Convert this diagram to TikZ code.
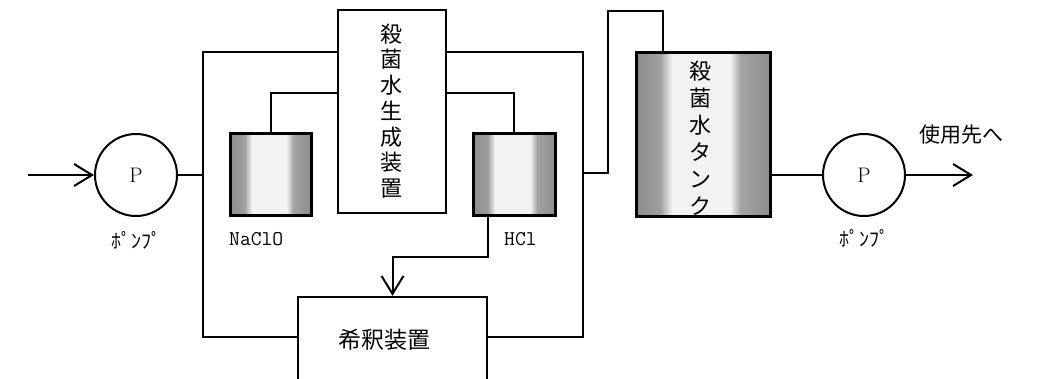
\documentclass[tikz,border=0pt]{standalone}
\usepackage{fontspec}
\newfontfamily\jp{Noto Sans CJK JP}
\usetikzlibrary{arrows.meta}
\pgfdeclarehorizontalshading{tankshade}{100bp}{color(0bp)=(black!45); color(25bp)=(black!45); color(34bp)=(black!38); color(38.5bp)=(black!5); color(60bp)=(black!5); color(64bp)=(black!36); color(75bp)=(black!45); color(100bp)=(black!45)}
\begin{document}
\begin{tikzpicture}[x=1pt,y=-1pt,
  line/.style={line width=2pt},
  pumpc/.style={circle,draw,line width=2pt,minimum size=82pt,inner sep=0pt,font=\fontsize{21}{21}\selectfont},
  box/.style={rectangle,draw,line width=2.4pt,fill=white,inner sep=0pt},
  tankbox/.style={rectangle,draw,line width=3pt,shading=tankshade,inner sep=0pt},
  jtext/.style={font=\jp\fontsize{#1}{#1}\selectfont,inner sep=0pt},
  vtext/.style={font=\jp\fontsize{22}{25.7}\selectfont,align=center,inner sep=0pt},
  chem/.style={font=\ttfamily\fontsize{21}{21}\selectfont,inner sep=0pt},
  arr/.style={-{Straight Barb[length=18pt,width=22pt,line width=2pt]}}
]
\useasboundingbox (0,0) rectangle (1038,378);
\clip (0,0) rectangle (1038,378);
\fill[white] (0,0) rectangle (1038,378);

% nodes
\node[pumpc] (pumpL) at (136,175) {P};
\node[jtext=20] (lblL) at (136,240) {ﾎﾟﾝﾌﾟ};
\coordinate (inL) at (28,175);

\node[box,minimum width=108pt,minimum height=203pt] (gen) at (392,111.5) {};
\node[vtext] (gentxt) at (391,111) {殺\\菌\\水\\生\\成\\装\\置};

\node[tankbox,minimum width=81pt,minimum height=82pt] (nacl) at (270.5,174) {};
\node[chem,anchor=west] (nacllbl) at (229,239) {NaClO};

\node[tankbox,minimum width=82pt,minimum height=82pt] (hcl) at (514,174) {};
\node[chem,anchor=west] (hcllbl) at (504,239) {HCl};

\node[box,minimum width=189pt,minimum height=86pt] (dil) at (392.5,340) {};
\node[jtext=23] (diltxt) at (384,340) {希釈装置};

\node[tankbox,minimum width=134pt,minimum height=164pt] (tank) at (703,134) {};
\node[vtext,font=\jp\fontsize{22}{27}\selectfont] (tanktxt) at (700,138) {殺\\菌\\水\\タ\\ン\\ク};

\node[pumpc] (pumpR) at (864,175) {P};
\node[jtext=20] (lblR) at (864,238) {ﾎﾟﾝﾌﾟ};
\node[jtext=21] (use) at (961,135) {使用先へ};
\coordinate (outR) at (973,175);

% junction coordinates
\coordinate (tl) at (203,52);
\coordinate (bl) at (203,337);
\coordinate (jL) at (203,175);
\coordinate (tr) at (583,52);
\coordinate (br) at (583,337);
\coordinate (jR) at (583,173);
\coordinate (up) at (608,11);
\coordinate (hclout) at (488,215);
\coordinate (hclturn) at (488,257);

% connectors
\draw[line,arr] (inL) -- (pumpL.west);
\draw[line] (pumpL.east) -- (jL);
\draw[line] (gen.west |- tl) -- (tl) -- (bl) -- (dil.west |- bl);
\draw[line] (gen.east |- tr) -- (tr) -- (br) -- (dil.east |- br);
\draw[line] (nacl.north) |- (gen.west |- 0,93);
\draw[line] (gen.east |- 0,93) -| (hcl.north);
\draw[line,arr] (hclout) -- (hclturn) -| (dil.north);
\draw[line] (jR) -| (up) -| (tank.north -| 663,0);
\draw[line] (tank.east |- pumpR) -- (pumpR.west);
\draw[line,arr] (pumpR.east) -- (outR);
\end{tikzpicture}
\end{document}
